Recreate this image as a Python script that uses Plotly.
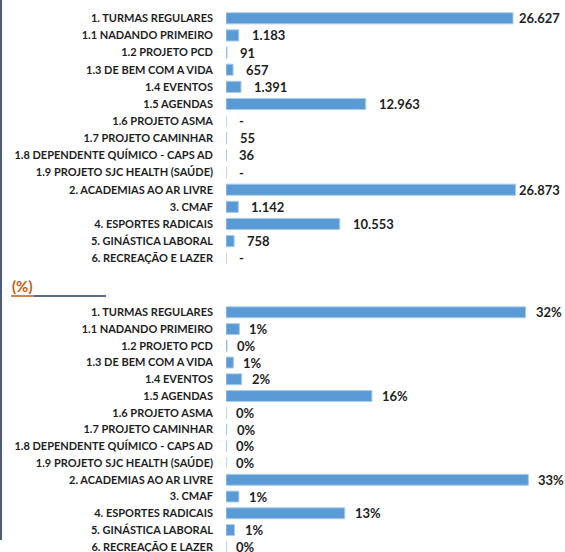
import plotly.graph_objects as go

W, H = 565, 552

categories = [
    "1. TURMAS REGULARES",
    "1.1 NADANDO PRIMEIRO",
    "1.2 PROJETO PCD",
    "1.3 DE BEM COM A VIDA",
    "1.4 EVENTOS",
    "1.5 AGENDAS",
    "1.6 PROJETO ASMA",
    "1.7 PROJETO CAMINHAR",
    "1.8 DEPENDENTE QUÍMICO - CAPS AD",
    "1.9 PROJETO SJC HEALTH (SAÚDE)",
    "2. ACADEMIAS AO AR LIVRE",
    "3. CMAF",
    "4. ESPORTES RADICAIS",
    "5. GINÁSTICA LABORAL",
    "6. RECREAÇÃO E LAZER",
]
values = [26627, 1183, 91, 657, 1391, 12963, 0, 55, 36, 0, 26873, 1142, 10553, 758, 0]
percent = [32.34, 1.44, 0.11, 0.80, 1.69, 15.75, 0.00, 0.07, 0.04, 0.00, 32.64, 1.39, 12.82, 0.92, 0.00]


def px_x(p):
    return p / W


def px_y(p):
    return 1 - p / H


def fmt_val(v):
    return "-" if v == 0 else f"{v:,}".replace(",", ".")


def fmt_pct(p):
    return f"{round(p)}%"


BAR = "#5B9BD5"
EDGE = "#A9CBEB"
TXT = "#1E1E1E"
FONT = "Lato"

x0_px = 226
top_range = 31451
pct_range = 36.59

fig = go.Figure()
fig.add_trace(go.Bar(
    y=categories, x=values, orientation="h",
    marker=dict(color=BAR, line=dict(color=EDGE, width=1)),
    xaxis="x", yaxis="y", hoverinfo="skip",
))
fig.add_trace(go.Bar(
    y=categories, x=percent, orientation="h",
    marker=dict(color=BAR, line=dict(color=EDGE, width=1)),
    xaxis="x2", yaxis="y2", hoverinfo="skip",
))

annotations = []
# value labels, top chart
for c, v in zip(categories, values):
    end_px = x0_px + v / top_range * (W - x0_px)
    if end_px + 12 + 42 > W - 2:
        annotations.append(dict(x=px_x(562), xref="paper", y=c, yref="y", text=fmt_val(v),
                                xanchor="right", showarrow=False,
                                font=dict(family=FONT, size=13, color=TXT, weight="bold")))
    else:
        annotations.append(dict(x=v, xref="x", y=c, yref="y", text=fmt_val(v),
                                xanchor="left", xshift=11, showarrow=False,
                                font=dict(family=FONT, size=13, color=TXT, weight="bold")))
# percent labels, bottom chart
for c, p in zip(categories, percent):
    annotations.append(dict(x=p, xref="x2", y=c, yref="y2", text=fmt_pct(p),
                            xanchor="left", xshift=8, showarrow=False,
                            font=dict(family=FONT, size=13, color=TXT, weight="bold")))

annotations.append(dict(x=px_x(10), y=px_y(297), xref="paper", yref="paper", text="(%)",
                        xanchor="left", yanchor="bottom", showarrow=False,
                        font=dict(family=FONT, size=15, color="#C55A11", weight="bold")))

shapes = [
    dict(type="line", xref="paper", yref="paper", x0=px_x(1), x1=px_x(1),
         y0=px_y(0), y1=px_y(540), line=dict(color="#4D5B7C", width=2)),
    dict(type="line", xref="paper", yref="paper", x0=px_x(11), x1=px_x(34),
         y0=px_y(296), y1=px_y(296), line=dict(color="#C55A11", width=1.5)),
    dict(type="line", xref="paper", yref="paper", x0=px_x(34), x1=px_x(106),
         y0=px_y(296), y1=px_y(296), line=dict(color="#1F3864", width=1.3)),
]

n = len(categories)
slot2 = 16.75
top2 = 312.3 - slot2 / 2
bottom_span = (H - top2) / slot2

axis_common = dict(showgrid=False, zeroline=False, showticklabels=False, showline=False, ticks="")
ycommon = dict(type="category", showgrid=False, zeroline=False, showline=False, ticks="",
               ticklabelstandoff=12,
               tickfont=dict(family=FONT, size=11, color=TXT, weight="bold"))

fig.update_layout(
    width=W, height=H,
    margin=dict(l=0, r=0, t=0, b=0),
    paper_bgcolor="white", plot_bgcolor="white",
    showlegend=False, bargap=0.35,
    xaxis=dict(domain=[px_x(x0_px), 1], range=[0, top_range], anchor="y", **axis_common),
    yaxis=dict(domain=[px_y(18.3 + 14 * 17.14 + 8.57), px_y(18.3 - 8.57)],
               range=[n - 0.5, -0.5], anchor="x", **ycommon),
    xaxis2=dict(domain=[px_x(x0_px), 1], range=[0, pct_range], anchor="y2", **axis_common),
    yaxis2=dict(domain=[0, px_y(top2)], range=[-0.5 + bottom_span, -0.5], anchor="x2", **ycommon),
    annotations=annotations,
    shapes=shapes,
    font=dict(family=FONT),
)

fig.write_html("out.html", config={"displayModeBar": False},
               post_script="document.body.style.margin='0';document.body.style.overflow='hidden';")
